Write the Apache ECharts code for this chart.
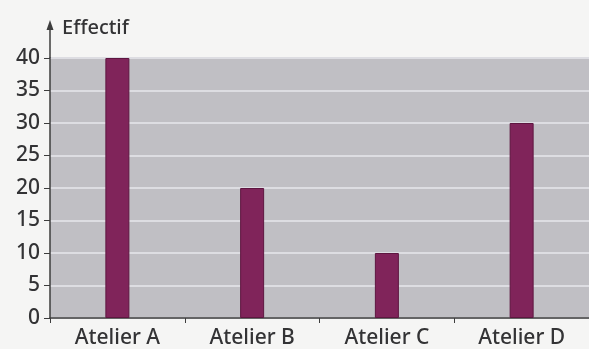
<!DOCTYPE html>
<html>
<head>
<meta charset="utf-8">
<script src="https://cdn.jsdelivr.net/npm/echarts@6/dist/echarts.min.js"></script>
<style>
  html, body { margin: 0; padding: 0; background: #f5f5f4; }
  #chart { width: 589px; height: 349px; }
</style>
</head>
<body>
<div id="chart"></div>
<script>
// Effectif par atelier
const categories = ['Atelier A', 'Atelier B', 'Atelier C', 'Atelier D'];
const effectifs = [40, 20, 10, 30];
const yTicks = { min: 0, max: 40, interval: 5 };
const yName = 'Effectif';

const chart = echarts.init(document.getElementById('chart'));
const font = 'Noto Sans';
const ink = '#333335';

chart.setOption({
  backgroundColor: '#f5f5f4',
  animation: false,
  grid: {
    left: 50, right: 0, top: 58, bottom: 30,
    show: true, backgroundColor: '#c0bfc4', borderWidth: 0
  },
  xAxis: {
    type: 'category',
    data: categories,
    axisLine: { lineStyle: { color: '#3d3d3d', width: 1.5 } },
    axisTick: { show: true, inside: false, length: 5, alignWithLabel: false, lineStyle: { color: '#3d3d3d' } },
    axisLabel: { color: ink, fontSize: 21, fontWeight: 500, fontFamily: font, margin: 10 }
  },
  yAxis: {
    type: 'value',
    min: yTicks.min, max: yTicks.max, interval: yTicks.interval,
    axisLine: { show: true, lineStyle: { color: '#3d3d3d', width: 1.5 } },
    axisTick: { show: true, length: 6, lineStyle: { color: '#3d3d3d' } },
    axisLabel: { color: ink, fontSize: 21, fontWeight: 500, fontFamily: font, margin: 10 },
    splitLine: { show: true, lineStyle: { color: '#dddde2', width: 2 } }
  },
  series: [{
    type: 'bar',
    data: effectifs,
    barWidth: 24,
    itemStyle: { color: '#80245a', borderColor: '#5e1640', borderWidth: 1 }
  }]
});

// Axis arrow and title above the value axis
const origin = chart.convertToPixel({ gridIndex: 0 }, [0, yTicks.max]);
const axisX = 50;
const topY = origin[1];
chart.setOption({
  graphic: [
    { type: 'line', shape: { x1: axisX, y1: topY, x2: axisX, y2: topY - 32 },
      style: { stroke: '#3d3d3d', lineWidth: 1.5 } },
    { type: 'polygon', shape: { points: [[axisX - 3.5, topY - 28], [axisX + 3.5, topY - 28], [axisX, topY - 38]] },
      style: { fill: '#3d3d3d' } },
    { type: 'text', x: axisX + 12, y: topY - 30,
      style: { text: yName, fill: ink, fontSize: 20, fontWeight: 500, fontFamily: font, textVerticalAlign: 'middle' } }
  ]
});
</script>
</body>
</html>
